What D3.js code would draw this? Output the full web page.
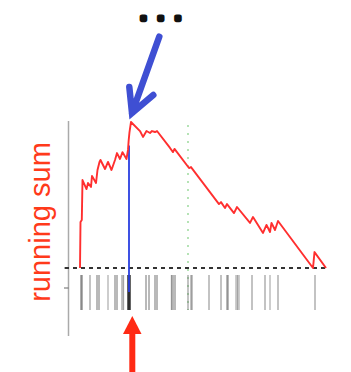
<!DOCTYPE html>
<html><head><meta charset="utf-8">
<script src="https://cdn.jsdelivr.net/npm/d3@7"></script>
<style>body{margin:0;background:#fff}svg{display:block}</style>
</head><body>
<svg id="c" width="351" height="372"></svg>
<script>
// running enrichment score (rank, score)
const esRank  = [2,2.5,3.8,4.5,8.5,10,13,14,18,19.5,21.5,22.5,27,30,33.5,37,39,42,44.5,48.5,50,50.7,51.5,53,62,65,68.5,72,74,77,79,92,95,96.5,111,113,141,143,147,149,156,159,172,175,185,188.5,192,193.5,197,200,235,236.5,248];
const esValue = [0,0.188,0.196,0.359,0.322,0.347,0.331,0.376,0.347,0.400,0.433,0.441,0.404,0.433,0.400,0.441,0.469,0.445,0.473,0.445,0.482,0.522,0.555,0.596,0.559,0.535,0.559,0.551,0.559,0.555,0.559,0.490,0.473,0.486,0.408,0.412,0.261,0.269,0.245,0.261,0.224,0.249,0.184,0.208,0.143,0.176,0.147,0.184,0.155,0.192,0,0.065,0];
// gene-set hit positions (rank)
const hitRank = [3,4,12,19,21,30,37,39,44,45.5,50,51,52,68,71,77,79,93.5,95,97,110,113,114,131,143,149,150,158,159.5,161,174,187,192,200,237];
const hitShade = [0.8,0.8,0.6,0.7,0.7,0.5,0.7,0.7,0.6,0.6,1,1,1,0.7,0.7,0.7,0.7,0.7,0.7,0.7,0.6,0.6,0.6,0.6,0.6,0.7,0.7,0.5,0.6,0.5,0.6,0.6,0.5,0.6,0.6];
const peakRank = 51, peakLineTop = 0.5;
const midRank = 110;
const yLabel = "running sum";
const title = "...";

const svg = d3.select("#c");
const x = d3.scaleLinear().domain([0,250]).range([78,328]);
const y = d3.scaleLinear().domain([0,0.6]).range([268,121]);
const barTop = 275, barBot = 310;

// left axis line
svg.append("line").attr("x1",68.5).attr("x2",68.5).attr("y1",121).attr("y2",336)
  .attr("stroke","#aaa").attr("stroke-width",1.5);
[268,288].forEach(v=>svg.append("line").attr("x1",64).attr("x2",68.5).attr("y1",v).attr("y2",v)
  .attr("stroke","#666").attr("stroke-width",1));

// green dotted middle line
svg.append("line").attr("x1",x(midRank)).attr("x2",x(midRank)).attr("y1",125).attr("y2",barBot)
  .attr("stroke","#8fd48f").attr("stroke-width",1.3).attr("stroke-dasharray","2,6");

// hits
svg.append("g").selectAll("line").data(hitRank).join("line")
  .attr("x1",d=>x(d)).attr("x2",d=>x(d)).attr("y1",barTop).attr("y2",barBot)
  .attr("stroke",(d,i)=>hitShade[i]===1?"#111":"#666")
  .attr("stroke-opacity",(d,i)=>hitShade[i])
  .attr("stroke-width",1.3);

// baseline dashed
svg.append("line").attr("x1",65).attr("x2",327).attr("y1",y(0)).attr("y2",y(0))
  .attr("stroke","#333").attr("stroke-width",2).attr("stroke-dasharray","4,4");

// blue peak line
svg.append("line").attr("x1",x(peakRank)).attr("x2",x(peakRank)).attr("y1",y(peakLineTop)).attr("y2",292)
  .attr("stroke","#2a3fe0").attr("stroke-width",1.8);

// running sum curve
const pts = esRank.map((r,i)=>[r,esValue[i]]);
svg.append("path").datum(pts)
  .attr("d",d3.line().x(d=>x(d[0])).y(d=>y(d[1])))
  .attr("fill","none").attr("stroke","#ff2f2f").attr("stroke-width",1.9).attr("stroke-linejoin","round");

// y label
svg.append("text").attr("transform","translate(50,222) rotate(-90)")
  .attr("text-anchor","middle").attr("font-family","Liberation Sans, Arial, sans-serif")
  .attr("font-size",29).attr("fill","#ff3a1a").text(yLabel);

// title dots
svg.append("text").attr("x","140 157.3 174.6").attr("y",19.5)
  .attr("font-family","DejaVu Sans, sans-serif").attr("font-weight","bold")
  .attr("font-size",18).attr("fill","#111").attr("stroke","#111").attr("stroke-width",4.5)
  .attr("stroke-linejoin","round").text(title);

// blue arrow
const blue = "#3f4fd3";
svg.append("path").attr("d","M159.3,36.7 L132,113 M129.3,87 L132,113 L153.3,95")
  .attr("fill","none").attr("stroke",blue).attr("stroke-width",6.5)
  .attr("stroke-linecap","round").attr("stroke-linejoin","miter");

// red arrow
const red = "#ff2a14";
svg.append("path").attr("d","M132.3,316 L141.5,334 L123,334 Z").attr("fill",red);
svg.append("rect").attr("x",129.3).attr("y",333).attr("width",6).attr("height",40).attr("fill",red);
</script>
</body></html>
